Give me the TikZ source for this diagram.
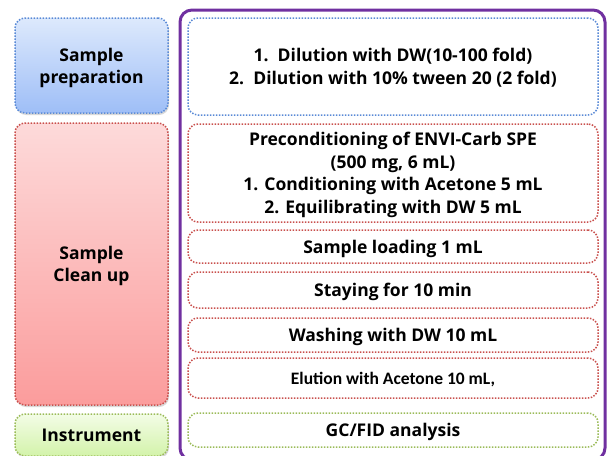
\documentclass[tikz,border=0pt]{standalone}
\usepackage{fontspec}
\setmainfont{Open Sans}
\newfontfamily\narrowfont{Carlito}
\usetikzlibrary{shadows}
\definecolor{bluedot}{HTML}{5A8AD6}
\definecolor{reddot}{HTML}{C9504D}
\definecolor{greendot}{HTML}{9BBB59}
\definecolor{framecol}{HTML}{7030A0}
\definecolor{bluetop}{HTML}{DDE9FC}
\definecolor{bluebot}{HTML}{9EBEF7}
\definecolor{redtop}{HTML}{FDDADA}
\definecolor{redbot}{HTML}{FB9C9C}
\definecolor{greentop}{HTML}{F3FCE6}
\definecolor{greenbot}{HTML}{D3F3AA}
\tikzstyle{stage}=[rounded corners=10pt,inner sep=0pt,align=center,line width=1.5pt,dash pattern=on 1.5pt off 1.5pt,font=\fontsize{17.5}{22}\selectfont\bfseries,text depth=-2pt,minimum width=153pt,drop shadow={opacity=0.3,shadow xshift=1pt,shadow yshift=-2pt}]
\tikzstyle{stageb}=[stage,draw=bluedot,top color=bluetop,bottom color=bluebot]
\tikzstyle{stager}=[stage,draw=reddot,top color=redtop,bottom color=redbot]
\tikzstyle{stageg}=[stage,draw=greendot,top color=greentop,bottom color=greenbot]
\tikzstyle{stepbox}=[rounded corners=10pt,inner sep=0pt,align=center,line width=1.5pt,dash pattern=on 1.5pt off 1.5pt,fill=white,font=\fontsize{17.5}{22.5}\selectfont\bfseries,text depth=-2pt,minimum width=410pt]

\begin{document}
\begin{tikzpicture}[x=1pt,y=-1pt]
    \useasboundingbox (0,0) rectangle (609,455);
    \clip (0,0) rectangle (609,455);
    % left column
    \node[stageb,minimum height=95pt] (prep) at (91.5,65.5) {Sample\\preparation};
    \node[stager,minimum height=282pt] (clean) at (91.5,264) {Sample\\Clean up};
    \node[stageg,minimum height=42pt] (instr) at (91.5,435) {Instrument};
    % frame
    \node[draw=framecol,line width=3pt,rounded corners=12pt,minimum width=425pt,minimum height=450pt,inner sep=0pt] (frame) at (392.5,235) {};
    % right column
    \node[stepbox,draw=bluedot,minimum height=97pt] (dil) at (393,66.5) {1.\ \ Dilution with DW(10-100 fold)\\2.\ \ Dilution with 10\% tween 20 (2 fold)};
    \node[stepbox,draw=reddot,minimum height=98pt] (cond) at (393,173) {Preconditioning of ENVI-Carb SPE\\(500 mg, 6 mL)\\1. Conditioning with Acetone 5 mL\\2. Equilibrating with DW 5 mL};
    \node[stepbox,draw=reddot,minimum height=33pt] (load) at (393,246.5) {Sample loading 1 mL};
    \node[stepbox,draw=reddot,minimum height=36pt] (stay) at (393,290) {Staying for 10 min};
    \node[stepbox,draw=reddot,minimum height=34pt] (wash) at (393,335) {Washing with DW 10 mL};
    \node[stepbox,draw=reddot,minimum height=40pt] (elute) at (393,378) {\narrowfont\fontsize{17.5}{22}\selectfont Elution with Acetone 10 mL,};
    \node[stepbox,draw=greendot,minimum height=34pt] (gc) at (393,430) {GC/FID analysis};
\end{tikzpicture}
\end{document}
